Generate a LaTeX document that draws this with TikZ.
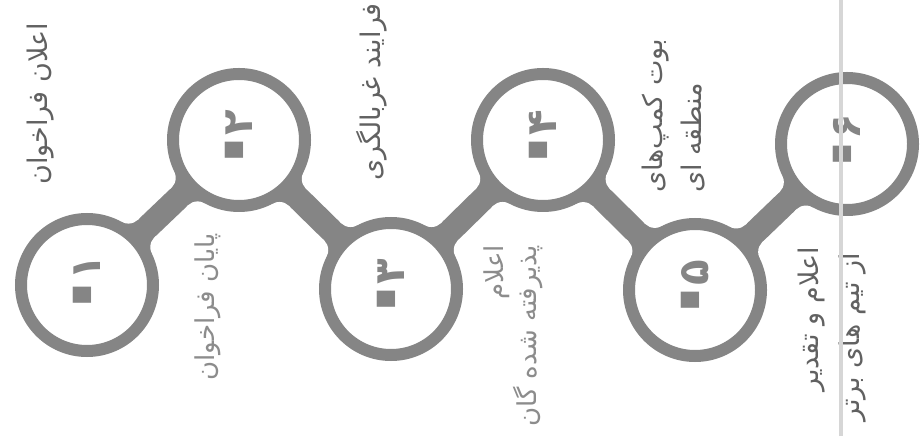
\documentclass[tikz,border=0pt]{standalone}
\usepackage{fontspec}
\usetikzlibrary{calc}
\TeXXeTstate=1
\newfontfamily\arabicfont[Script=Arabic]{DejaVu Sans}
\definecolor{ringgray}{gray}{0.52}
\definecolor{txtgray}{gray}{0.38}
\definecolor{lighttxt}{gray}{0.55}
\definecolor{scanline}{gray}{0.84}
\pgfdeclarelayer{bg}
\pgfsetlayers{bg,main}
\newcommand\zdig[1]{\hspace{-20pt}\raisebox{-24pt}[0pt][0pt]{\mdseries\fontsize{150}{150}\selectfont ۰}\hspace{-25pt}#1}
\tikzset{
  stepring/.style={circle, draw=ringgray, line width=12pt, fill=white,
    minimum size=132pt, inner sep=0pt, rotate=90, text=ringgray,
    font=\arabicfont\bfseries\fontsize{42}{42}\selectfont},
  lbl/.style={rotate=90, inner sep=0pt, text=txtgray,
    font=\arabicfont\fontsize{27}{27}\selectfont},
  lightlbl/.style={lbl, text=lighttxt, font=\arabicfont\fontsize{26}{26}\selectfont},
}
\newcommand\linkcirc[2]{%
  \fill[ringgray] let \p1=($(#2)-(#1)$), \n1={atan2(\y1,\x1)} in
    ([shift={(#1)},rotate=\n1]0,0) -- ([shift={(#1)},rotate=\n1]82,26)
    -- ([shift={(#1)},rotate=\n1]82,12) -- ([shift={(#2)},rotate=\n1]-82,12)
    -- ([shift={(#2)},rotate=\n1]-82,26) -- ([shift={(#2)},rotate=\n1]0,0)
    -- ([shift={(#2)},rotate=\n1]-82,-26) -- ([shift={(#2)},rotate=\n1]-82,-12)
    -- ([shift={(#1)},rotate=\n1]82,-12) -- ([shift={(#1)},rotate=\n1]82,-26) -- cycle;
  \fill[white] let \p1=($(#2)-(#1)$), \n1={atan2(\y1,\x1)} in
    ([shift={(#1)},rotate=\n1]82,26) circle[radius=14pt]
    ([shift={(#1)},rotate=\n1]82,-26) circle[radius=14pt]
    ([shift={(#2)},rotate=\n1]-82,26) circle[radius=14pt]
    ([shift={(#2)},rotate=\n1]-82,-26) circle[radius=14pt];
}
\begin{document}
\begin{tikzpicture}[x=1pt,y=1pt]
\useasboundingbox (0,0) rectangle (920,436);
% circles
\node[stepring] (c1) at (87,151) {\zdig{۱}};
\node[stepring] (c2) at (239,296) {\zdig{۲}};
\node[stepring] (c3) at (391,147) {\zdig{۳}};
\node[stepring] (c4) at (543,296) {\zdig{۴}};
\node[stepring] (c5) at (695,146) {\zdig{۵}};
\node[stepring] (c6) at (847,292) {\zdig{۶}};
\begin{pgfonlayer}{bg}
\fill[white] (0,0) rectangle (920,436);
\linkcirc{c1}{c2}
\linkcirc{c2}{c3}
\linkcirc{c3}{c4}
\linkcirc{c4}{c5}
\linkcirc{c5}{c6}
\end{pgfonlayer}
% labels
\node[lbl, anchor=east] (t1) at (41,413) {\beginR اعلان فراخوان\endR};
\node[lightlbl, anchor=east] (t2) at (208,203) {\beginR پایان فراخوان\endR};
\node[lbl, anchor=east] (t3) at (372,433) {\beginR فرایند غربالگری\endR};
\node[lightlbl, anchor=east] (t4a) at (497,191) {\beginR اعلام\endR};
\node[lightlbl, anchor=east] (t4b) at (528,191) {\beginR پذیرفته شده گان\endR};
\node[lbl, anchor=west] (t5a) at (656,243) {\beginR بوت کمپ‌های\endR};
\node[lbl, anchor=west] (t5b) at (693,243) {\beginR منطقه ای\endR};
\node[lbl, anchor=east] (t6a) at (812,189) {\beginR اعلام و تقدیر\endR};
\node[lbl, anchor=east] (t6b) at (853,183) {\beginR از تیم های برتر\endR};
% scan line
\draw[scanline, line width=4pt] (841,0) -- (841,436);
\end{tikzpicture}
\end{document}
